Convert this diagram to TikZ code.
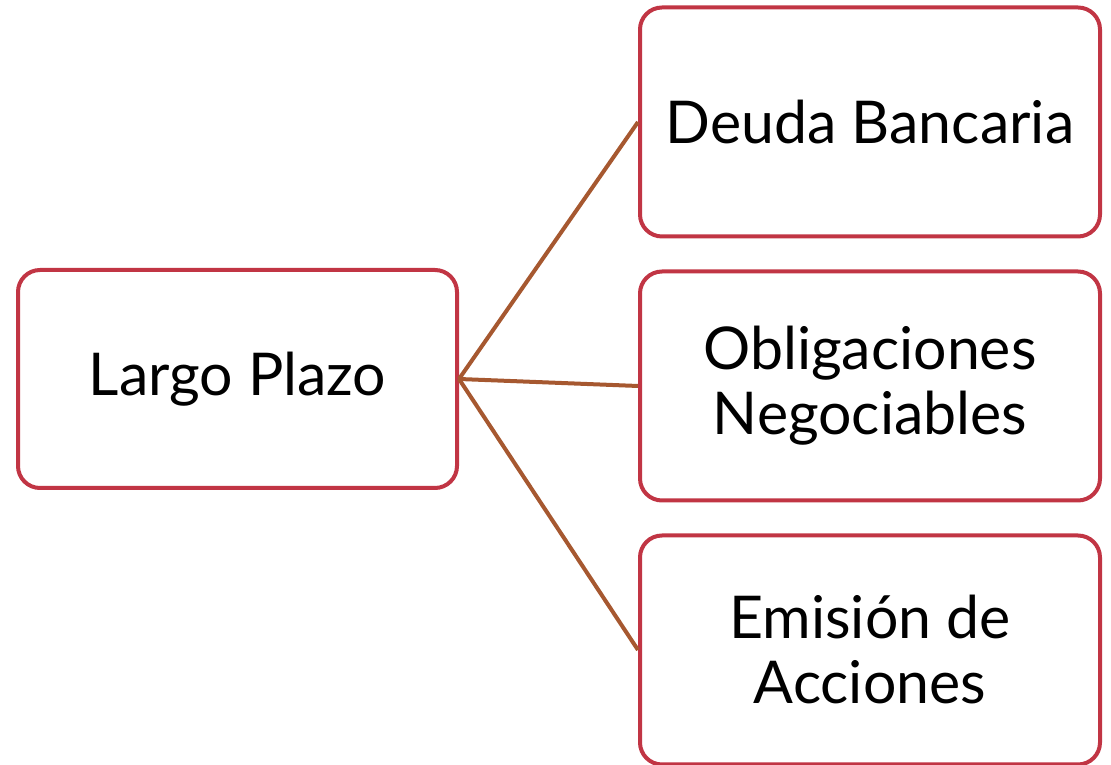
\documentclass[tikz,border=0pt]{standalone}
\usepackage{fontspec}
\setmainfont{Lato}
\usetikzlibrary{positioning}
\definecolor{box-red}{RGB}{193, 53, 68}
\definecolor{link-brown}{RGB}{166, 88, 48}
\tikzset{
  plazobox/.style={draw=box-red, line width=4pt, rounded corners=22pt, fill=white,
    align=center, font=\fontsize{59}{65}\selectfont, inner sep=0pt},
  link/.style={draw=link-brown, line width=4pt}
}

\begin{document}
\begin{tikzpicture}[x=1pt, y=1pt]
\useasboundingbox (0,0) rectangle (1111,765);
\node[plazobox, minimum width=439pt, minimum height=218pt] (largo) at (237.5,386) {Largo Plazo};
\node[plazobox, minimum width=460pt, minimum height=229pt] (deuda) at (870,643) {Deuda Bancaria};
\node[plazobox, minimum width=460pt, minimum height=229pt] (oblig) at (870,379) {Obligaciones\\Negociables};
\node[plazobox, minimum width=460pt, minimum height=229pt] (acciones) at (870,115) {Emisión de\\Acciones};
\draw[link] (largo.east) -- (deuda.west);
\draw[link] (largo.east) -- (oblig.west);
\draw[link] (largo.east) -- (acciones.west);
\end{tikzpicture}
\end{document}
